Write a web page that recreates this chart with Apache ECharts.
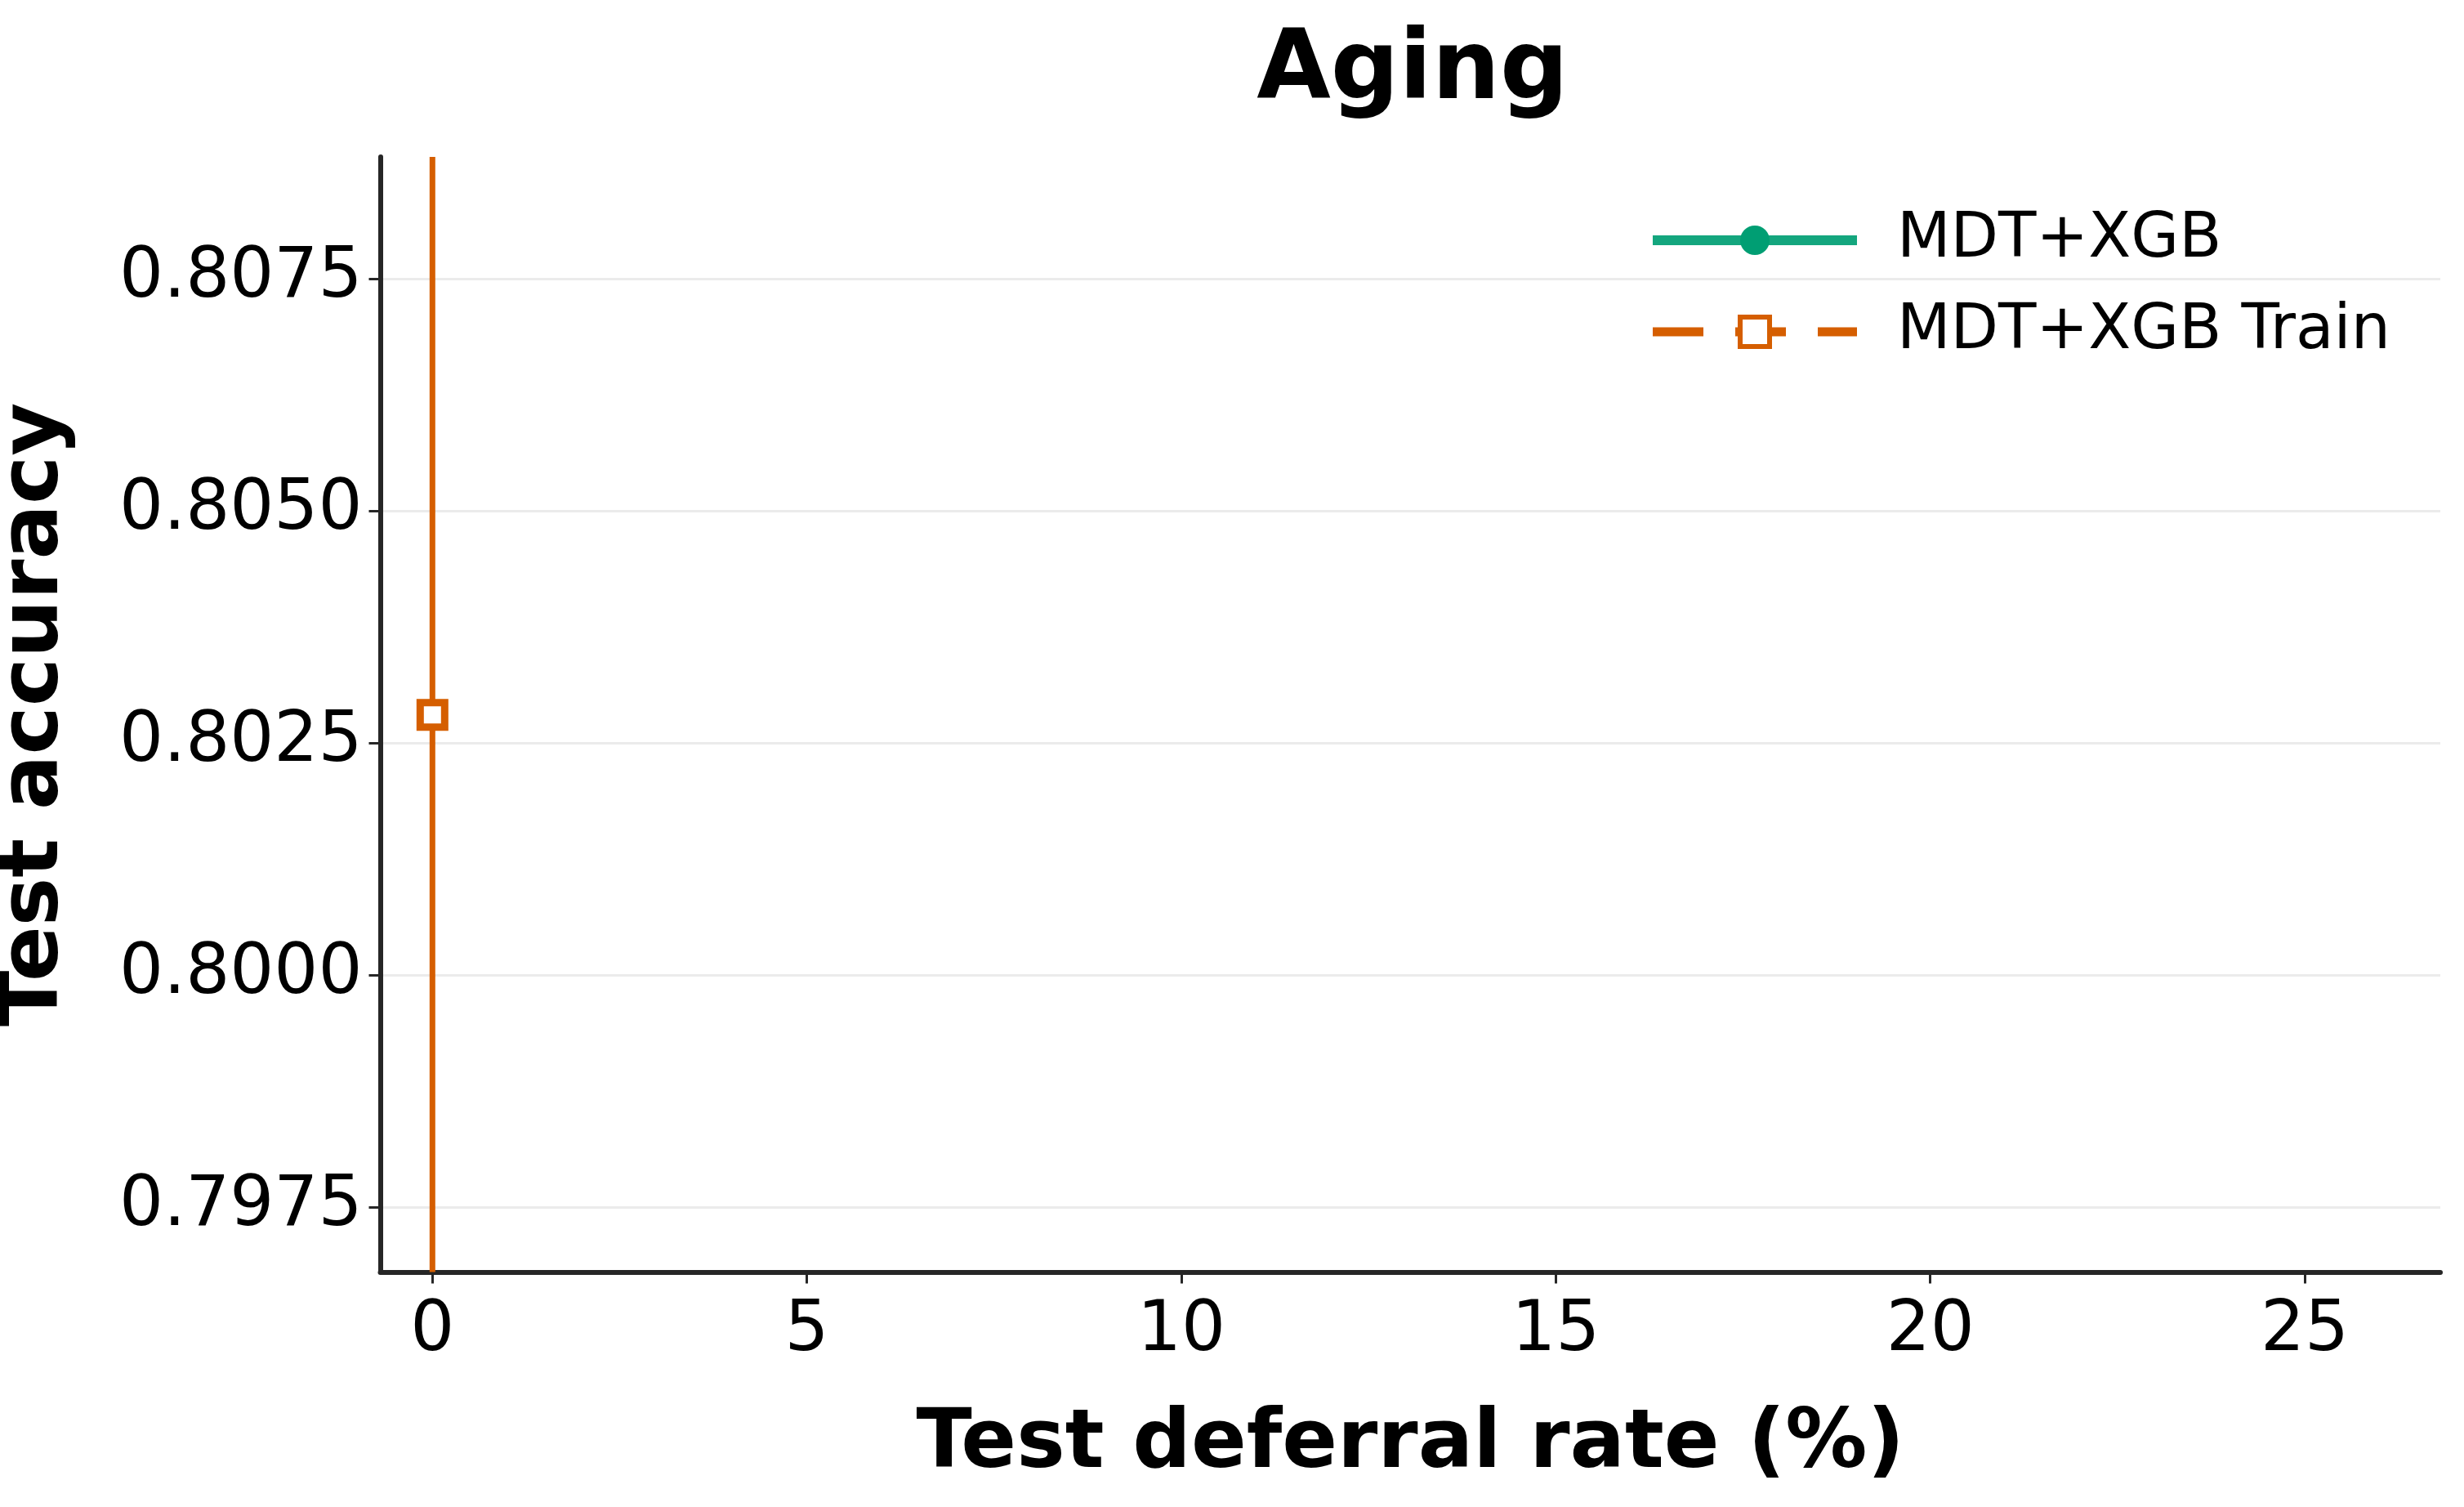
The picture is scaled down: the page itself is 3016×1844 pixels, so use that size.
<!DOCTYPE html>
<html>
<head>
<meta charset="utf-8">
<title>Aging</title>
<script src="https://cdn.jsdelivr.net/npm/echarts@6/dist/echarts.min.js"></script>
<style>
  html, body { margin: 0; padding: 0; background: #fff; }
  #chart { width: 3016px; height: 1844px; }
</style>
</head>
<body>
<div id="chart"></div>
<script>
// data
const seriesNames = ['MDT+XGB', 'MDT+XGB Train']
// MDT+XGB: nothing visible inside the plotted range
const mdtX = []
const mdtY = []
// MDT+XGB Train: one point with a very wide error bar
const trainX = [0]
const trainY = [0.8028]
const trainErr = [0.012]

const xTicks = [0, 5, 10, 15, 20, 25]
const yTicks = [0.7975, 0.8, 0.8025, 0.805, 0.8075]

const green = '#009e73'
const orange = '#d55e00'
const font = 'DejaVu Sans'

let myChart = echarts.init(document.getElementById('chart'))

let options = {
  animation: false,
  backgroundColor: '#fff',
  title: {
    text: 'Aging',
    left: 1724,
    top: 26,
    textAlign: 'center',
    textStyle: { fontFamily: font, fontSize: 117, fontWeight: 'bold', color: '#000' },
  },
  legend: {
    orient: 'vertical',
    left: 2017,
    top: 256,
    padding: 0,
    itemWidth: 250,
    itemHeight: 45,
    itemGap: 36,
    textStyle: { fontFamily: font, fontSize: 76, color: '#000', padding: [0, 0, 0, 44] },
    data: [
      {
        name: seriesNames[0],
        lineStyle: { width: 12, type: 'solid', color: green, opacity: 0.92 },
        itemStyle: { color: green, borderWidth: 0 },
      },
      {
        name: seriesNames[1],
        lineStyle: { width: 11, type: [62, 39], color: orange },
        itemStyle: { color: '#fff', borderColor: orange, borderWidth: 6 },
      },
    ],
  },
  grid: {
    left: 465.5,
    right: 29,
    top: 192,
    bottom: 287.5,
    containLabel: false,
    outerBoundsMode: 'none',
  },
  xAxis: {
    type: 'value',
    min: -0.696,
    max: 26.81,
    name: 'Test deferral rate (%)',
    nameLocation: 'middle',
    nameGap: 163,
    nameTextStyle: { fontFamily: font, fontSize: 100, fontWeight: 'bold', color: '#000' },
    axisLine: { show: true, onZero: false, lineStyle: { color: '#262626', width: 6 } },
    axisTick: { show: true, length: 14, lineStyle: { color: '#262626', width: 3 }, customValues: xTicks },
    axisLabel: {
      fontFamily: font, fontSize: 85, color: '#000', margin: 31,
      customValues: xTicks,
      formatter: (v) => String(v),
    },
    splitLine: { show: false },
  },
  yAxis: {
    type: 'value',
    min: 0.7968,
    max: 0.80881,
    name: 'Test accuracy',
    nameLocation: 'middle',
    nameGap: 371,
    nameRotate: 90,
    nameTextStyle: { fontFamily: font, fontSize: 100, fontWeight: 'bold', color: '#000' },
    axisLine: { show: true, onZero: false, lineStyle: { color: '#262626', width: 6 } },
    axisTick: { show: true, length: 14, lineStyle: { color: '#262626', width: 3 }, customValues: yTicks },
    axisLabel: {
      fontFamily: font, fontSize: 85, color: '#000', margin: 22,
      customValues: yTicks,
      formatter: (v) => v.toFixed(4),
    },
    splitLine: { show: true, lineStyle: { color: '#ebebeb', width: 3 } },
  },
  series: [
    {
      // error bar of the train series
      type: 'custom',
      name: 'trainErr',
      clip: true,
      z: 1,
      silent: true,
      data: trainX.map((x, i) => [x, trainY[i] - trainErr[i], trainY[i] + trainErr[i]]),
      renderItem: function (params, api) {
        let lo = api.coord([api.value(0), api.value(1)])
        let hi = api.coord([api.value(0), api.value(2)])
        return {
          type: 'line',
          shape: { x1: lo[0], y1: lo[1], x2: hi[0], y2: hi[1] },
          style: { stroke: orange, lineWidth: 7 },
        }
      },
    },
    {
      name: seriesNames[0],
      type: 'line',
      z: 3,
      symbol: 'circle',
      symbolSize: 30,
      lineStyle: { color: green, width: 12, opacity: 0.92 },
      itemStyle: { color: green },
      data: mdtX.map((x, i) => [x, mdtY[i]]),
    },
    {
      name: seriesNames[1],
      type: 'line',
      z: 3,
      symbol: 'rect',
      symbolSize: 30,
      showSymbol: true,
      lineStyle: { color: orange, width: 11, type: [62, 39] },
      itemStyle: { color: '#fff', borderColor: orange, borderWidth: 9 },
      data: trainX.map((x, i) => [x, trainY[i]]),
    },
  ],
}

myChart.setOption(options)
</script>
</body>
</html>
